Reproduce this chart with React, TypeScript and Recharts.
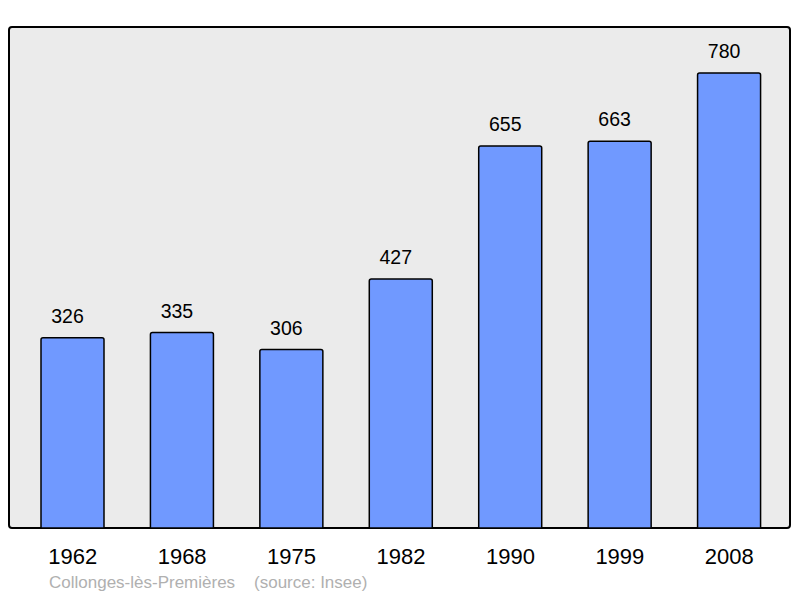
import React from 'react';
import { BarChart, Bar, XAxis, YAxis, LabelList } from 'recharts';

const years = ['1962', '1968', '1975', '1982', '1990', '1999', '2008'];
const population = [326, 335, 306, 427, 655, 663, 780];

const data = years.map((y, i) => ({ year: y, pop: population[i] }));

const font = '"Liberation Sans", Arial, sans-serif';

export default function App() {
  return (
    <div style={{ position: 'absolute', left: 0, top: 0, width: 800, height: 598, background: '#fff', fontFamily: font }}>
      <div
        style={{
          position: 'absolute',
          left: 8,
          top: 26,
          width: 783,
          height: 503,
          background: '#ebebeb',
          border: '2px solid #000',
          borderRadius: 4,
          boxSizing: 'border-box',
        }}
      />
      <div style={{ position: 'absolute', left: 0, top: 0 }}>
        <BarChart
          width={800}
          height={598}
          data={data}
          margin={{ top: 27, right: 16, left: 18, bottom: 40 }}
          barSize={63}
        >
          <XAxis
            dataKey="year"
            axisLine={false}
            tickLine={false}
            interval={0}
            tickMargin={14}
            tick={{ fill: '#000', fontSize: 22, fontFamily: font }}
          />
          <YAxis hide domain={[0, 859]} />
          <Bar dataKey="pop" fill="#7099ff" stroke="#000" strokeWidth={1.5} radius={[2, 2, 0, 0]} isAnimationActive={false}>
            <LabelList dataKey="pop" position="top" offset={15} dx={-5} fill="#000" fontSize={19.5} fontFamily={font} />
          </Bar>
        </BarChart>
      </div>
      <div style={{ position: 'absolute', left: 49, top: 573, fontSize: 17, color: '#b0b0b0', whiteSpace: 'pre', fontFamily: font }}>
        {'Collonges-lès-Premières    (source: Insee)'}
      </div>
    </div>
  );
}
